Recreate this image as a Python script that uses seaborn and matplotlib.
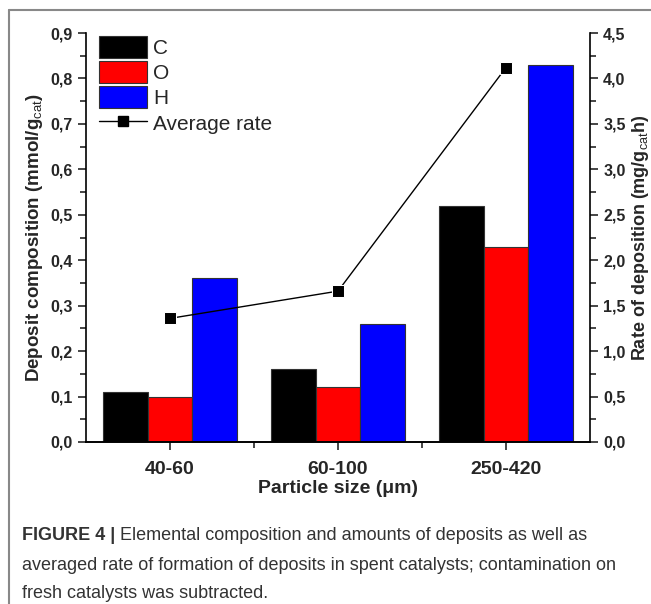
import numpy as np
import pandas as pd
import matplotlib
matplotlib.use("Agg")
import matplotlib.pyplot as plt
import seaborn as sns
from matplotlib.ticker import MultipleLocator, FuncFormatter
from matplotlib.patches import Patch
from matplotlib.lines import Line2D

sizes = ['40-60', '60-100', '250-420']
elements = ['C', 'O', 'H']
c_vals = [0.11, 0.16, 0.52]
o_vals = [0.10, 0.12, 0.43]
h_vals = [0.36, 0.26, 0.83]
avg_rate = [1.36, 1.66, 4.12]
colors = ['#000000', '#FF0000', '#0000FF']

df = pd.DataFrame({
    'size': sizes * 3,
    'element': ['C'] * 3 + ['O'] * 3 + ['H'] * 3,
    'value': c_vals + o_vals + h_vals,
})

sns.set_style("ticks")
plt.rcParams['font.family'] = ['Liberation Sans', 'DejaVu Sans']
plt.rcParams['mathtext.fontset'] = 'custom'
plt.rcParams['mathtext.rm'] = 'Liberation Sans'
plt.rcParams['mathtext.bf'] = 'Liberation Sans:bold'

fig = plt.figure(figsize=(6.51, 6.04), dpi=100)
ax = fig.add_axes([86 / 651, 1 - 442 / 604, (590 - 86) / 651, (442 - 33) / 604])

sns.barplot(data=df, x='size', y='value', hue='element', hue_order=elements,
            palette=colors, width=0.8, edgecolor='#333333', linewidth=0.8,
            saturation=1, ax=ax)
ax.get_legend().remove()

ax2 = ax.twinx()
sns.lineplot(x=np.arange(len(sizes)), y=avg_rate, marker='s', color='black',
             markersize=8, linewidth=1, ax=ax2)

comma = FuncFormatter(lambda v, p: f"{v:.1f}".replace('.', ','))

ax.set_xlim(-0.5, 2.5)
ax.set_ylim(0, 0.9)
ax2.set_ylim(0, 4.5)
ax.yaxis.set_major_locator(MultipleLocator(0.1))
ax.yaxis.set_minor_locator(MultipleLocator(0.05))
ax2.yaxis.set_major_locator(MultipleLocator(0.5))
ax2.yaxis.set_minor_locator(MultipleLocator(0.25))
ax.yaxis.set_major_formatter(comma)
ax2.yaxis.set_major_formatter(comma)
ax.set_xticks(np.arange(len(sizes)))
ax.set_xticks([0.5, 1.5], minor=True)
ax.set_xticklabels(sizes)

for a in (ax, ax2):
    for s in a.spines.values():
        s.set_linewidth(1.2)
        s.set_color('black')
    a.spines['top'].set_visible(False)
    a.tick_params(which='major', length=6, width=1.2, direction='out')
    a.tick_params(which='minor', length=4, width=1.2, direction='out')
ax.spines['right'].set_visible(False)
ax2.spines['left'].set_visible(False)

for lab in ax.get_yticklabels() + ax2.get_yticklabels():
    lab.set_fontweight('bold')
    lab.set_fontsize(11.5)
for lab in ax.get_xticklabels():
    lab.set_fontweight('bold')
    lab.set_fontsize(14)
ax.tick_params(axis='x', pad=8)

ax.set_xlabel('Particle size (μm)', fontsize=14, fontweight='bold', labelpad=1)
ax.set_ylabel(r'Deposit composition (mmol/g$_{\mathrm{cat}}$)', fontsize=13.5,
              fontweight='bold', labelpad=4)
ax2.set_ylabel(r'Rate of deposition (mg/g$_{\mathrm{cat}}$h)', fontsize=13,
               fontweight='bold', labelpad=3)

handles = [Patch(facecolor=c, edgecolor='#333333', linewidth=0.8) for c in colors]
handles.append(Line2D([], [], color='black', marker='s', markersize=7, linewidth=1))
ax.legend(handles, elements + ['Average rate'], loc='upper left',
          bbox_to_anchor=(10 / 504, 1.0), frameon=False, fontsize=15,
          handlelength=2.3, handleheight=1.25, labelspacing=0.15,
          handletextpad=0.3, borderpad=0.0, borderaxespad=0.15)

# figure frame (top and left edges)
fig.add_artist(Line2D([9 / 651, 1], [1 - 10 / 604] * 2, transform=fig.transFigure,
                      color='#888888', lw=1.5))
fig.add_artist(Line2D([9 / 651] * 2, [0, 1 - 10 / 604], transform=fig.transFigure,
                      color='#888888', lw=1.5))

# caption
cap_font = ['Liberation Sans Narrow', 'Liberation Sans', 'DejaVu Sans']
fig.canvas.draw()
t = fig.text(22 / 651, 1 - 536 / 604, 'FIGURE 4 | ', fontsize=13, fontweight='bold',
             color='#333333', va='center', family=cap_font)
fig.canvas.draw()
bb = t.get_window_extent()
fig.text(bb.x1 / fig.bbox.width, 1 - 536 / 604,
         'Elemental composition and amounts of deposits as well as',
         fontsize=13, color='#333333', va='center', family=cap_font)
fig.text(22 / 651, 1 - 566 / 604,
         'averaged rate of formation of deposits in spent catalysts; contamination on',
         fontsize=13, color='#333333', va='center', family=cap_font)
fig.text(22 / 651, 1 - 594 / 604, 'fresh catalysts was subtracted.',
         fontsize=13, color='#333333', va='center', family=cap_font)

fig.savefig('out.png', dpi=100)
